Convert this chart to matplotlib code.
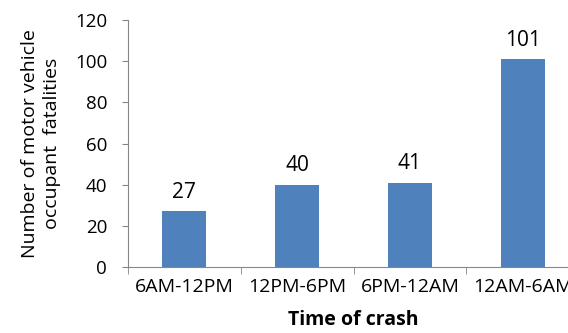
import numpy as np
import matplotlib.pyplot as plt

categories = ['6AM-12PM', '12PM-6PM', '6PM-12AM', '12AM-6AM']
fatalities = [27, 40, 41, 101]

plt.rcParams['font.family'] = ['Open Sans', 'DejaVu Sans']

fig = plt.figure(figsize=(5.68, 3.33), dpi=100)
ax = fig.add_axes([128 / 568, 1 - 267 / 333, 451 / 568, 247 / 333])

x = np.arange(len(categories))
ax.bar(x, fatalities, width=0.39, color='#4F81BD')
for xi, v in zip(x, fatalities):
    ax.annotate(str(v), (xi, v), xytext=(0, 13.5), textcoords='offset points',
                ha='center', va='center', fontsize=15)

ax.set_xlim(-0.5, 3.5)
ax.set_ylim(0, 120)
ax.set_yticks(range(0, 121, 20))
ax.tick_params(axis='y', labelsize=13.5, length=4, color='#868686', pad=11)

# category labels centered, ticks at the boundaries
ax.set_xticks(x)
ax.set_xticklabels(categories, fontsize=14)
ax.tick_params(axis='x', length=0, pad=8)
ax.set_xticks(np.arange(-0.5, 4, 1), minor=True)
ax.tick_params(axis='x', which='minor', length=5, color='#868686')

for s in ['top', 'right']:
    ax.spines[s].set_visible(False)
ax.spines['left'].set_color('#868686')
ax.spines['bottom'].set_color('#868686')

ax.set_ylabel('Number of motor vehicle\noccupant  fatalities', fontsize=14,
              labelpad=10, linespacing=1.3)
ax.set_xlabel('Time of crash', fontsize=14, fontweight='bold', labelpad=10)

plt.savefig('out.png')
